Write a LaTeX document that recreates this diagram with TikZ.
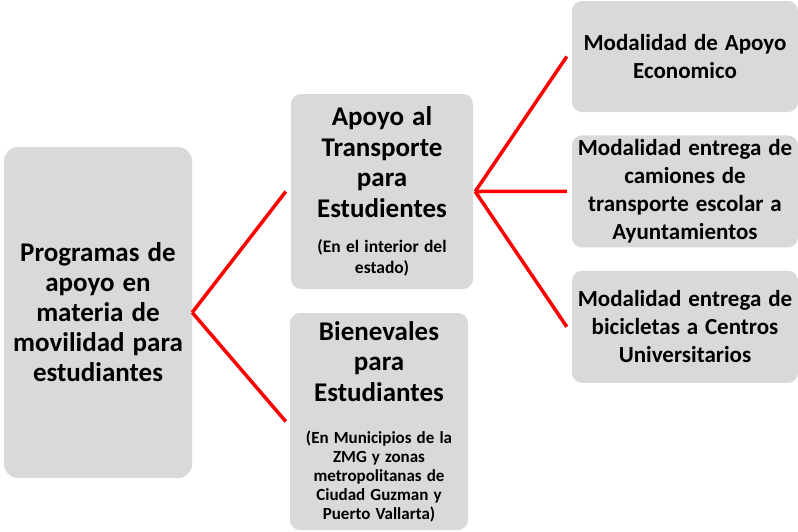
\documentclass[tikz,border=0pt]{standalone}
\usepackage{fontspec}
\setmainfont{Carlito}
\usetikzlibrary{positioning}
\definecolor{boxgray}{HTML}{D9D9D9}
\tikzset{
    card/.style = {
        fill = boxgray,
        rounded corners = 10pt,
        align = center,
        inner sep = 1pt,
        font = \bfseries,
        },
    big card/.style = {
        card,
        rounded corners = 14pt,
        },
    link/.style = {
        draw = red,
        line width = 3.5pt,
        },
}
\newcommand{\rootfont}{\fontsize{27}{30}\selectfont\spaceskip=0.3em\relax}
\newcommand{\headfont}{\fontsize{27}{30.5}\selectfont\spaceskip=0.3em\relax}
\newcommand{\notefont}{\fontsize{17.5}{20.5}\selectfont\spaceskip=0.3em\relax}
\newcommand{\leaffont}{\fontsize{23}{28}\selectfont\spaceskip=0.3em\relax}

\begin{document}
\begin{tikzpicture}[x=1pt, y=-1pt]
            \useasboundingbox (0,0) rectangle (798,531);
            \node[big card, text width=186pt, minimum height=331pt] (root) at (98,312.5)
                {\rootfont Programas de\\apoyo en\\materia de\\movilidad para\\estudiantes\par};
            \node[card, text width=180pt, minimum height=195pt] (apoyo) at (382,191.5)
                {{\headfont Apoyo al\\Transporte\\para\\Estudientes\par}\vspace{15pt}
                 {\notefont (En el interior del\\estado)\par}};
            \node[card, text width=176pt, minimum height=217pt] (bici) at (379,421.5)
                {{\headfont Bienevales\\para\\Estudiantes\par}\vspace{23pt}
                 {\fontsize{17}{19}\selectfont\spaceskip=0.3em\relax (En Municipios de la\\ZMG y zonas\\metropolitanas de\\Ciudad Guzman y\\Puerto Vallarta)\par}};
            \node[card, text width=224pt, minimum height=111pt] (eco) at (685,56.5)
                {\leaffont Modalidad de Apoyo\\Economico\par};
            \node[card, text width=224pt, minimum height=112pt, below=23pt of eco] (camion)
                {\leaffont Modalidad entrega de\\camiones de\\transporte escolar a\\Ayuntamientos\par};
            \node[card, text width=224pt, minimum height=112pt, below=23pt of camion] (cu)
                {\leaffont Modalidad entrega de\\bicicletas a Centros\\Universitarios\par};

            \path[link] (root.east) -- ([xshift=-5pt]apoyo.west);
            \path[link] (root.east) -- ([xshift=-4pt]bici.west);
            \path[link] ([xshift=2pt]apoyo.east) -- ([xshift=-5pt]eco.west);
            \path[link] ([xshift=2pt]apoyo.east) -- ([xshift=-5pt]camion.west);
            \path[link] ([xshift=2pt]apoyo.east) -- ([xshift=-5pt]cu.west);
        \end{tikzpicture}
\end{document}
